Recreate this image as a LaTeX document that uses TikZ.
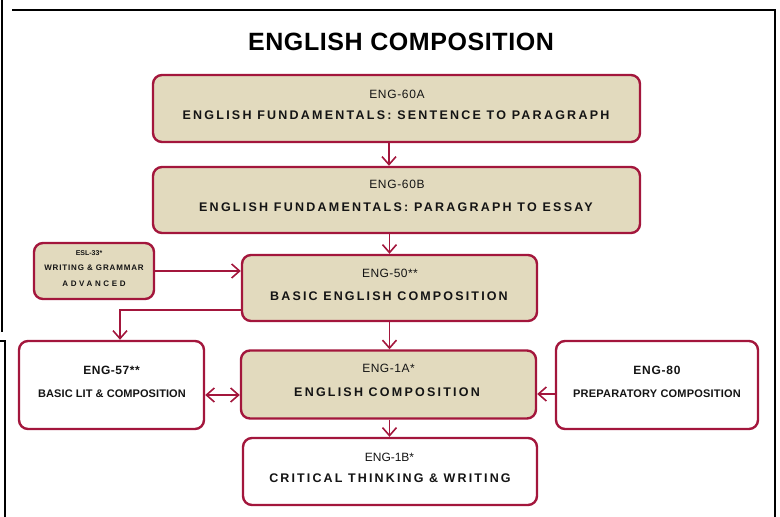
\documentclass[tikz,border=0pt]{standalone}
\usepackage{fontspec}
\setmainfont{Liberation Sans}
\usetikzlibrary{arrows.meta}
\definecolor{crim}{RGB}{163,22,60}
\definecolor{tanfill}{RGB}{226,218,190}
\definecolor{txt}{RGB}{20,20,20}
\makeatletter
\newlength\fitnat
\newcommand\fittext[3]{\settowidth\fitnat{#3}%
  \pgfmathsetmacro\fitls{(#1-\fitnat)/#2/\f@size*100}%
  {\addfontfeature{LetterSpace=\fitls}#3}}
\makeatother
\begin{document}
\begin{tikzpicture}[x=1pt,y=-1pt,
  box/.style={draw=crim, line width=2.4pt, rounded corners=9pt, inner sep=0pt},
  tanbox/.style={box, fill=tanfill},
  wbox/.style={box, fill=white},
  tip/.tip={Straight Barb[length=8pt,width=14pt,line width=1.6pt]},
  arr/.style={draw=crim, line width=1.8pt, -tip},
  arrboth/.style={draw=crim, line width=1.8pt, tip-tip},
  code/.style={font=\fontsize{12}{12}\selectfont, text=txt, inner sep=0pt, anchor=center},
  capt/.style={font=\fontsize{12.5}{12}\selectfont\bfseries, text=txt, inner sep=0pt, anchor=center},
  small/.style={font=\fontsize{11}{11}\selectfont\bfseries, text=txt, inner sep=0pt, anchor=center},
  tiny/.style={font=\fontsize{8}{8}\selectfont\bfseries, text=txt, inner sep=0pt, anchor=center},
  frame/.style={draw=black, line width=2.5pt}
]
\useasboundingbox (0,0) rectangle (780,517);
% frame lines
\draw[frame] (12,10) -- (775,10) -- (775,517);
\draw[frame] (2,0) -- (2,332);
\draw[frame] (0,341) -- (5,341) -- (5,517);
% title
\node[font=\fontsize{25}{25}\selectfont\bfseries, text=black, inner sep=0pt] (title) at (401,42) {\fittext{307}{19}{ENGLISH COMPOSITION}};
% boxes
\node[tanbox, minimum width=487pt, minimum height=67pt] (a60) at (396.5,108.5) {};
\node[tanbox, minimum width=487pt, minimum height=66pt] (b60) at (396.5,200) {};
\node[tanbox, minimum width=120pt, minimum height=56pt] (esl) at (94,271) {};
\node[tanbox, minimum width=295pt, minimum height=66pt] (e50) at (389.5,288) {};
\node[wbox, minimum width=185pt, minimum height=88pt] (e57) at (111.5,385) {};
\node[tanbox, minimum width=295pt, minimum height=68pt] (e1a) at (388.5,384.5) {};
\node[wbox, minimum width=202pt, minimum height=88pt] (e80) at (657,385) {};
\node[wbox, minimum width=294pt, minimum height=67pt] (e1b) at (390,471.5) {};
% texts
\node[code] (ta1) at (397,94) {\fittext{56}{7}{ENG-60A}};
\node[capt] (ta2) at (396,115) {\fittext{438}{43}{ENGLISH FUNDAMENTALS: SENTENCE TO PARAGRAPH}};
\node[code] (tb1) at (397,184) {\fittext{56}{7}{ENG-60B}};
\node[capt] (tb2) at (396,207) {\fittext{405}{40}{ENGLISH FUNDAMENTALS: PARAGRAPH TO ESSAY}};
\node[tiny, font=\fontsize{7}{8}\selectfont\bfseries] (te1) at (89,253) {ESL-33*};
\node[tiny] (te2) at (94,268) {\fittext{102}{17}{WRITING \& GRAMMAR}};
\node[tiny] (te3) at (94,284) {\fittext{66}{8}{ADVANCED}};
\node[code] (tc1) at (390,273) {\fittext{56}{8}{ENG-50**}};
\node[capt] (tc2) at (389,296) {\fittext{244}{25}{BASIC ENGLISH COMPOSITION}};
\node[code, font=\fontsize{12}{12}\selectfont\bfseries] (td1) at (111.5,370) {\fittext{57}{8}{ENG-57**}};
\node[small] (td2) at (112,394) {\fittext{148}{23}{BASIC LIT \& COMPOSITION}};
\node[code] (tf1) at (388.5,368) {\fittext{53}{7}{ENG-1A*}};
\node[capt] (tf2) at (387,392) {\fittext{190}{19}{ENGLISH COMPOSITION}};
\node[code, font=\fontsize{12}{12}\selectfont\bfseries] (tg1) at (657,370) {\fittext{48}{6}{ENG-80}};
\node[small] (tg2) at (657,394) {\fittext{168}{23}{PREPARATORY COMPOSITION}};
\node[code] (th1) at (389.5,457) {\fittext{49}{7}{ENG-1B*}};
\node[capt] (th2) at (390,478) {\fittext{250}{27}{CRITICAL THINKING \& WRITING}};
% connectors
\draw[arr] (a60.south -| 389,0) -- (b60.north -| 389,0);
\draw[arr] (b60.south -| e50.north) -- (e50.north);
\draw[arr] (esl.east) -- (esl.east -| e50.west);
\draw[arr] ([yshift=-22pt]e50.west) -| ([xshift=8.5pt]e57.north);
\draw[arr] (e50.south -| 389.5,0) -- (e1a.north -| 389.5,0);
\draw[arrboth] ([yshift=-10pt]e57.east) -- ([yshift=-10pt]e57.east -| e1a.west);
\draw[arr] ([yshift=-9pt]e80.west) -- ([yshift=-9pt]e80.west -| e1a.east);
\draw[arr] (e1a.south -| 389.5,0) -- (e1b.north -| 389.5,0);
\end{tikzpicture}
\end{document}
